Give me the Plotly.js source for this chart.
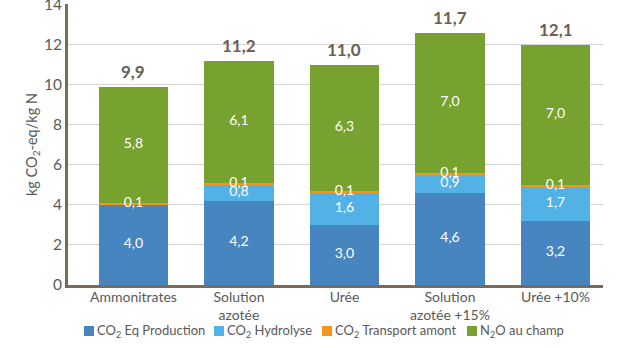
<!DOCTYPE html>
<html><head><meta charset="utf-8">
<script src="https://cdn.plot.ly/plotly-3.0.1.min.js"></script>
<style>body{margin:0;background:#fff}#chart{width:643px;height:348px}</style>
</head><body><div id="chart"></div>
<script>
const categories = ["Ammonitrates", "Solution<br>azotée", "Urée", "Solution<br>azotée +15%", "Urée +10%"];
const production = [4.0, 4.2, 3.0, 4.6, 3.2];
const hydrolyse = [0, 0.8, 1.6, 0.9, 1.7];
const transport = [0.1, 0.1, 0.1, 0.1, 0.1];
const n2o = [5.8, 6.1, 6.3, 7.0, 7.0];
const totalLabels = ["9,9", "11,2", "11,0", "11,7", "12,1"];
const seriesNames = ["CO<sub>2</sub> Eq Production", "CO<sub>2</sub> Hydrolyse", "CO<sub>2</sub> Transport amont", "N<sub>2</sub>O au champ"];
const colors = ["#4785c1", "#52b2e6", "#f7941d", "#77a22f"];

const FONT = "Lato, 'Open Sans', sans-serif";
const TXT = "#595959";
const W = 643, H = 348, ML = 68, MR = 40, MT = 4, MB = 63;
const PW = W - ML - MR, PH = H - MT - MB;
const px2x = p => (p - ML) / PW;   // pixel -> paper x
const py2y = p => (H - MB - p) / PH; // pixel -> paper y

const series = [production, hydrolyse, transport, n2o];
const fmt = v => v.toFixed(1).replace(".", ",");
const x = categories.map((c, i) => i);

const traces = [];
series.forEach((vals, k) => {
  traces.push({type: "bar", x: x, y: vals, name: seriesNames[k], marker: {color: colors[k]},
    hoverinfo: "none", textposition: "none", showlegend: false});
});
// segment labels
const base = categories.map(() => 0);
series.forEach((vals, k) => {
  const ys = [], txt = [];
  vals.forEach((v, i) => {
    ys.push(v > 0 ? base[i] + v / 2 : null);
    txt.push(v > 0 ? fmt(v) : "");
    base[i] += v;
  });
  traces.push({type: "scatter", mode: "text", x: x, y: ys, text: txt, showlegend: false,
    hoverinfo: "none", textfont: {family: FONT, size: 14, color: "#ffffff"}});
});

const annotations = [];
// totals above stacks
x.forEach((xi, i) => {
  annotations.push({x: xi, y: base[i], xref: "x", yref: "y", text: "<b>" + totalLabels[i] + "</b>",
    showarrow: false, yanchor: "bottom", yshift: 3,
    font: {family: FONT, size: 17, color: "#6d6053"}});
});
// custom legend (squares + labels)
const legendSquareX = [84, 214, 322, 467];
const legendY = 331;
const shapes = [];
seriesNames.forEach((nm, k) => {
  shapes.push({type: "rect", xref: "paper", yref: "paper",
    x0: px2x(legendSquareX[k]), x1: px2x(legendSquareX[k] + 10),
    y0: py2y(legendY - 5), y1: py2y(legendY + 5),
    fillcolor: colors[k], line: {width: 0}});
  annotations.push({xref: "paper", yref: "paper", x: px2x(legendSquareX[k] + 11), y: py2y(legendY),
    xanchor: "left", yanchor: "middle", showarrow: false, text: nm,
    font: {family: FONT, size: 13, color: TXT}});
});

const layout = {
  width: W, height: H,
  margin: {l: ML, r: MR, t: MT, b: MB},
  barmode: "stack", bargap: 0.34,
  paper_bgcolor: "#fff", plot_bgcolor: "#fff",
  font: {family: FONT, color: TXT, size: 14},
  showlegend: false,
  xaxis: {range: [-0.62, 4.45], tickvals: x, ticktext: categories, showgrid: false,
    showline: true, linecolor: "#7b6a56", linewidth: 3, ticks: "", zeroline: false,
    ticklabelstandoff: -3,
    automargin: false, tickfont: {family: FONT, size: 14, color: TXT}, fixedrange: true},
  yaxis: {range: [0, 14.03], tickvals: [0, 2, 4, 6, 8, 10, 12, 14], showgrid: true, gridcolor: "#d4d4d4", gridwidth: 1,
    showline: true, linecolor: "#7b6a56", linewidth: 3, ticks: "", zeroline: false,
    automargin: false, ticklabeloverflow: "allow", tickfont: {family: FONT, size: 15.5, color: TXT},
    title: {text: "kg CO<sub>2</sub>-eq/kg N", font: {family: FONT, size: 14.5, color: TXT}, standoff: 3}},
  annotations: annotations,
  shapes: shapes
};
Plotly.newPlot("chart", traces, layout, {displayModeBar: false, staticPlot: true});
</script></body></html>
